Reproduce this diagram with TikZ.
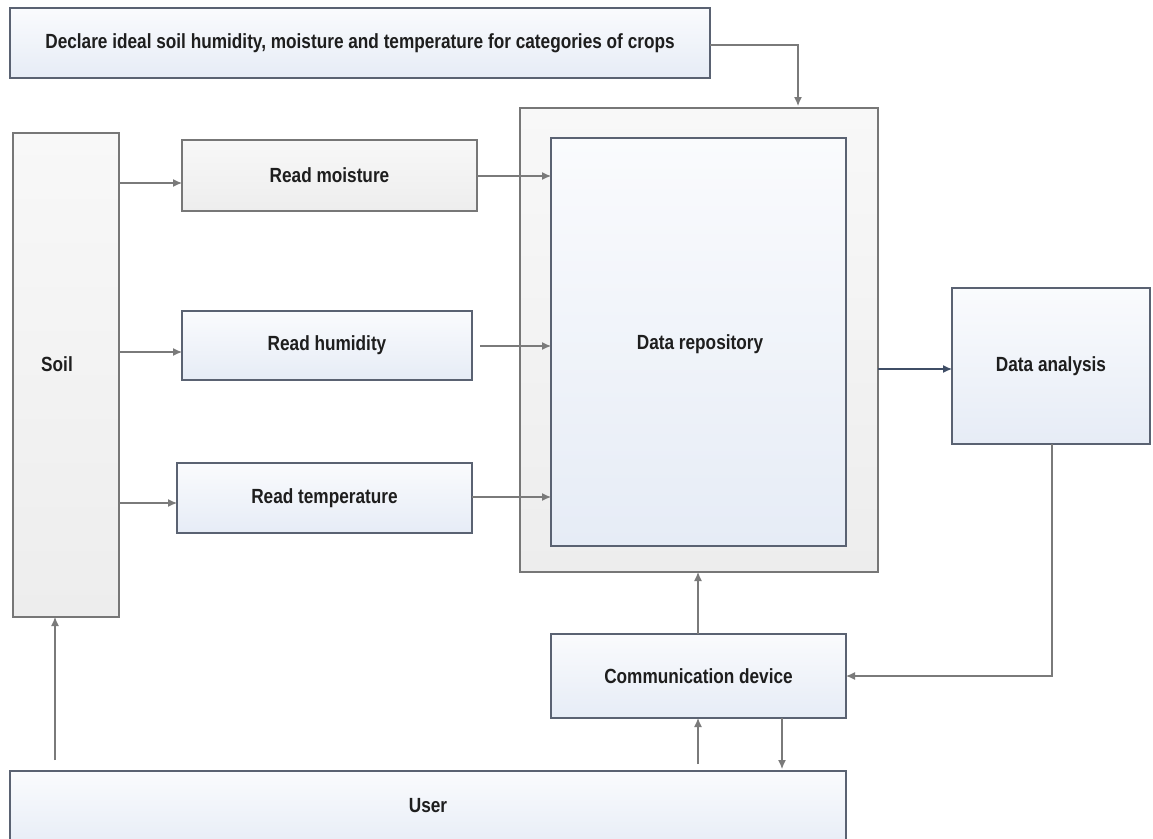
\documentclass[tikz,border=0pt]{standalone}
\usepackage{fontspec}
\setmainfont{Liberation Sans}[FakeStretch=0.84]
\usetikzlibrary{arrows.meta}
\definecolor{edgegray}{HTML}{777777}
\definecolor{edgeblue}{HTML}{5A6272}
\definecolor{bluebot}{HTML}{E6ECF6}
\definecolor{bluetop}{HTML}{FAFBFD}
\definecolor{graybot}{HTML}{EDEDED}
\definecolor{graytop}{HTML}{F8F8F8}
\definecolor{linegray}{HTML}{7A7A7A}
\definecolor{lineblue}{HTML}{3F4E66}
\definecolor{txt}{HTML}{1E1E1E}
\tikzset{
  x=1pt, y=-1pt,
  lbl/.style={text=txt, font=\fontsize{20.5}{24}\selectfont\bfseries},
  box/.style={draw=edgeblue, line width=1.2pt, inner sep=0pt, outer sep=0pt,
    top color=bluetop, bottom color=bluebot, lbl, align=center},
  gbox/.style={box, draw=edgegray, top color=graytop, bottom color=graybot},
  conn/.style={draw=linegray, line width=1.2pt, -{Latex[length=9pt,width=8pt]}},
  connb/.style={draw=lineblue, line width=1.2pt, -{Latex[length=9pt,width=8pt]}},
}
\newcommand{\bx}[7]{% style, name, x1, y1, x2, y2, text
  \node[#1, minimum width=#5-#3, minimum height=#6-#4] (#2) at ({(#3+#5)/2},{(#4+#6)/2}) {#7};}
\begin{document}
\begin{tikzpicture}
\fill[white] (0,0) rectangle (1153,838);
\useasboundingbox (0,0) rectangle (1153,838);
\clip (0,0) rectangle (1153,838);
% nodes
\bx{box}{declare}{10}{8}{710}{78}{Declare ideal soil humidity, moisture and temperature for categories of crops}
\bx{gbox}{outer}{520}{108}{878}{572}{}
\bx{box}{repo}{551}{138}{846}{546}{}
\node[lbl] (repotext) at (700,344) {Data repository};
\bx{gbox}{soil}{13}{133}{119}{617}{}
\node[lbl] (soiltext) at (57,364) {Soil};
\bx{gbox}{moist}{182}{140}{477}{211}{Read moisture}
\bx{box}{humid}{182}{311}{472}{380}{Read humidity}
\bx{box}{temp}{177}{463}{472}{533}{Read temperature}
\bx{box}{analysis}{952}{288}{1150}{444}{Data analysis}
\bx{box}{comm}{551}{634}{846}{718}{Communication device}
\bx{box}{user}{10}{771}{846}{850}{}
\node[lbl] (usertext) at (428,806) {User};
% connectors
\coordinate (d1) at (798,45);
\draw[conn] (declare.east |- d1) -- (d1) -- (798,106);
\draw[conn] (soil.east |- 0,183) -- (moist.west |- 0,183);
\draw[conn] (soil.east |- 0,352) -- (humid.west |- 0,352);
\draw[conn] (soil.east |- 0,503) -- (temp.west |- 0,503);
\draw[conn] (moist.east |- 0,176) -- (repo.west |- 0,176);
\draw[conn] (480,346) -- (repo.west |- 0,346);
\draw[conn] (temp.east |- 0,497) -- (repo.west |- 0,497);
\draw[connb] (outer.east |- 0,369) -- (analysis.west |- 0,369);
\draw[conn] (analysis.south -| 1052,0) -- (1052,676) -- (comm.east |- 0,676);
\draw[conn] (comm.north -| 698,0) -- (outer.south -| 698,0);
\draw[conn] (698,764) -- (comm.south -| 698,0);
\draw[conn] (comm.south -| 782,0) -- (782,769);
\draw[conn] (55,760) -- (soil.south -| 55,0);
\end{tikzpicture}
\end{document}
